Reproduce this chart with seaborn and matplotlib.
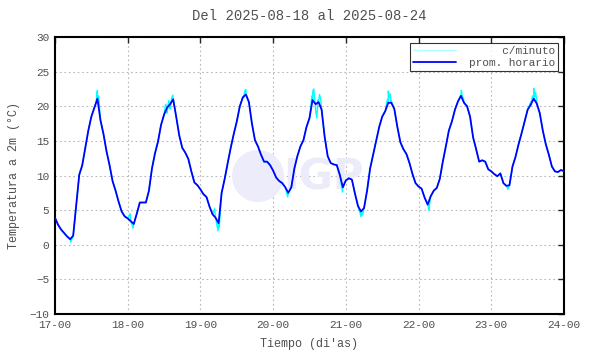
import numpy as np
import pandas as pd
import matplotlib
matplotlib.use("Agg")
import matplotlib.pyplot as plt
import seaborn as sns
from matplotlib.patches import Ellipse

# Promedio horario (horas desde 2025-08-17 00:00)
dia1 = [3.9, 2.9, 2.2, 1.7, 1.2, 0.8, 1.3, 5.7, 10.1, 11.5, 14.0, 16.5,
        18.5, 19.8, 21.1, 18.0, 16.0, 13.5, 11.5, 9.2, 7.8, 6.2, 4.8, 4.1]
dia2 = [3.8, 3.4, 3.0, 4.5, 6.1, 6.1, 6.1, 7.8, 11.0, 13.2, 14.9, 17.3,
        18.8, 19.8, 20.3, 21.0, 18.5, 15.8, 14.0, 13.3, 12.4, 10.6, 9.0, 8.6]
dia3 = [8.0, 7.3, 6.9, 5.5, 4.4, 3.9, 3.1, 7.5, 9.5, 11.8, 14.0, 16.0,
        17.8, 20.0, 21.3, 21.7, 20.6, 17.5, 15.1, 14.2, 13.0, 12.0, 12.0, 11.5]
dia4 = [10.7, 9.7, 9.2, 8.9, 8.3, 7.5, 8.3, 11.0, 12.8, 14.2, 15.1, 17.0,
        18.3, 20.9, 20.3, 20.6, 19.5, 15.6, 12.8, 11.8, 11.6, 11.5, 10.1, 8.3]
dia5 = [9.3, 9.6, 9.4, 7.4, 5.6, 4.8, 5.3, 7.8, 11.0, 13.0, 15.0, 17.0,
        18.5, 19.3, 20.5, 20.5, 19.6, 17.0, 14.8, 13.8, 13.1, 11.8, 10.2, 8.9]
dia6 = [8.4, 8.1, 6.8, 5.8, 7.0, 7.8, 8.2, 9.5, 12.0, 14.2, 16.5, 17.8,
        19.5, 20.7, 21.5, 20.5, 20.0, 18.5, 15.5, 13.8, 12.0, 12.2, 12.0, 10.9]
dia7 = [10.6, 10.2, 9.9, 10.3, 8.9, 8.5, 8.6, 11.3, 12.7, 14.5, 16.1, 17.8,
        19.5, 20.2, 21.1, 20.4, 19.0, 16.5, 14.5, 13.0, 11.3, 10.6, 10.5, 10.8, 10.6]

# Datos por minuto donde se separan del promedio (hora, valor)
min_t = [5.2, 13.6, 13.8, 14.0, 14.2, 14.4, 24.8, 25.8, 26.3,
         36.5, 37.0, 37.5, 38.0, 38.5, 38.9, 39.2, 52.7, 53.8, 54.2,
         62.3, 62.6, 63.0, 63.3, 76.8, 84.8, 85.1, 85.4, 85.7, 86.0, 86.4,
         86.8, 87.3, 87.7, 94.9, 101.0, 101.5, 109.7, 110.0, 110.3, 110.6,
         111.0, 123.2, 123.4, 133.8, 134.1, 134.4, 134.9, 149.5, 157.0,
         157.6, 158.0, 158.3, 158.6, 159.0]
min_v = [0.4, 20.5, 21.8, 22.3, 21.0, 21.5, 4.5, 2.4, 3.5,
         20.3, 19.0, 20.8, 19.6, 21.2, 21.6, 20.6, 5.2, 2.0, 2.5,
         21.2, 22.2, 22.4, 21.5, 6.9, 21.5, 22.2, 22.5, 21.0, 19.5, 18.3,
         20.9, 21.7, 21.0, 7.6, 4.1, 4.3, 21.0, 22.2, 21.2, 21.8,
         20.8, 5.5, 5.0, 21.5, 22.3, 21.6, 21.0, 8.0, 20.6,
         21.5, 22.6, 21.4, 22.0, 20.8]

xticks = [0, 24, 48, 72, 96, 120, 144, 168]
xlabels = ["17-00", "18-00", "19-00", "20-00", "21-00", "22-00", "23-00", "24-00"]

horario = dia1 + dia2 + dia3 + dia4 + dia5 + dia6 + dia7
df_h = pd.DataFrame({"hora": np.arange(len(horario)), "temp": horario})
df_m = pd.concat([df_h, pd.DataFrame({"hora": min_t, "temp": min_v})])
df_m = df_m.sort_values("hora")

sns.set_style("white")
plt.rcParams['font.family'] = ['Liberation Mono', 'DejaVu Sans Mono']
gris = "#505050"

fig = plt.figure(figsize=(5.9, 3.54), dpi=100)
ax = fig.add_axes([55/590, 1 - 314/354, 509/590, 277/354])

# marca de agua IGP (detras de las curvas)
ax.add_patch(Ellipse((258/590, 1 - 176/354), 52/590, 52/354, transform=fig.transFigure,
                     facecolor="#ececfa", edgecolor="none", zorder=0.6))
ax.text(283/590, 1 - 178/354, "IGP", fontsize=30, fontweight="bold", color="#ebebf9",
        family="DejaVu Sans", va="center", ha="left", zorder=0.6,
        transform=fig.transFigure)

sns.lineplot(data=df_m, x="hora", y="temp", ax=ax, color="#00ffff", lw=1.0,
             estimator=None, sort=False, label="     c/minuto", zorder=2)
sns.lineplot(data=df_h, x="hora", y="temp", ax=ax, color="#0000ff", lw=1.3,
             estimator=None, sort=False, label="prom. horario", zorder=3)

ax.set_xlim(0, 168)
ax.set_ylim(-10, 30)
ax.set_xticks(xticks)
ax.set_xticklabels(xlabels)
ax.set_yticks(range(-10, 31, 5))
ax.grid(True, color="#b8b8b8", ls=(0, (1.5, 2.5)), lw=0.8)
ax.tick_params(direction="in", length=4, width=1, top=True, right=True,
               labelsize=8, labelcolor=gris, pad=4)
for s in ax.spines.values():
    s.set_color("black")
    s.set_linewidth(1.5)

ax.set_title("Del 2025-08-18 al 2025-08-24", fontsize=10, color=gris, pad=12)
ax.set_xlabel("Tiempo (di'as)", fontsize=8.5, color=gris, labelpad=6)
ax.set_ylabel("Temperatura a 2m (°C)", fontsize=8.5, color=gris, labelpad=7)

leg = ax.legend(loc="upper right", fontsize=8, frameon=True, fancybox=False,
                handlelength=3.8, borderpad=0.3, labelspacing=0.15,
                borderaxespad=0.5, handletextpad=1.2)
leg.get_frame().set_edgecolor("black")
leg.get_frame().set_linewidth(0.8)
for t in leg.get_texts():
    t.set_color(gris)
leg.get_lines()[0].set_color("#b0ffff")

fig.savefig("out.png", dpi=100)
